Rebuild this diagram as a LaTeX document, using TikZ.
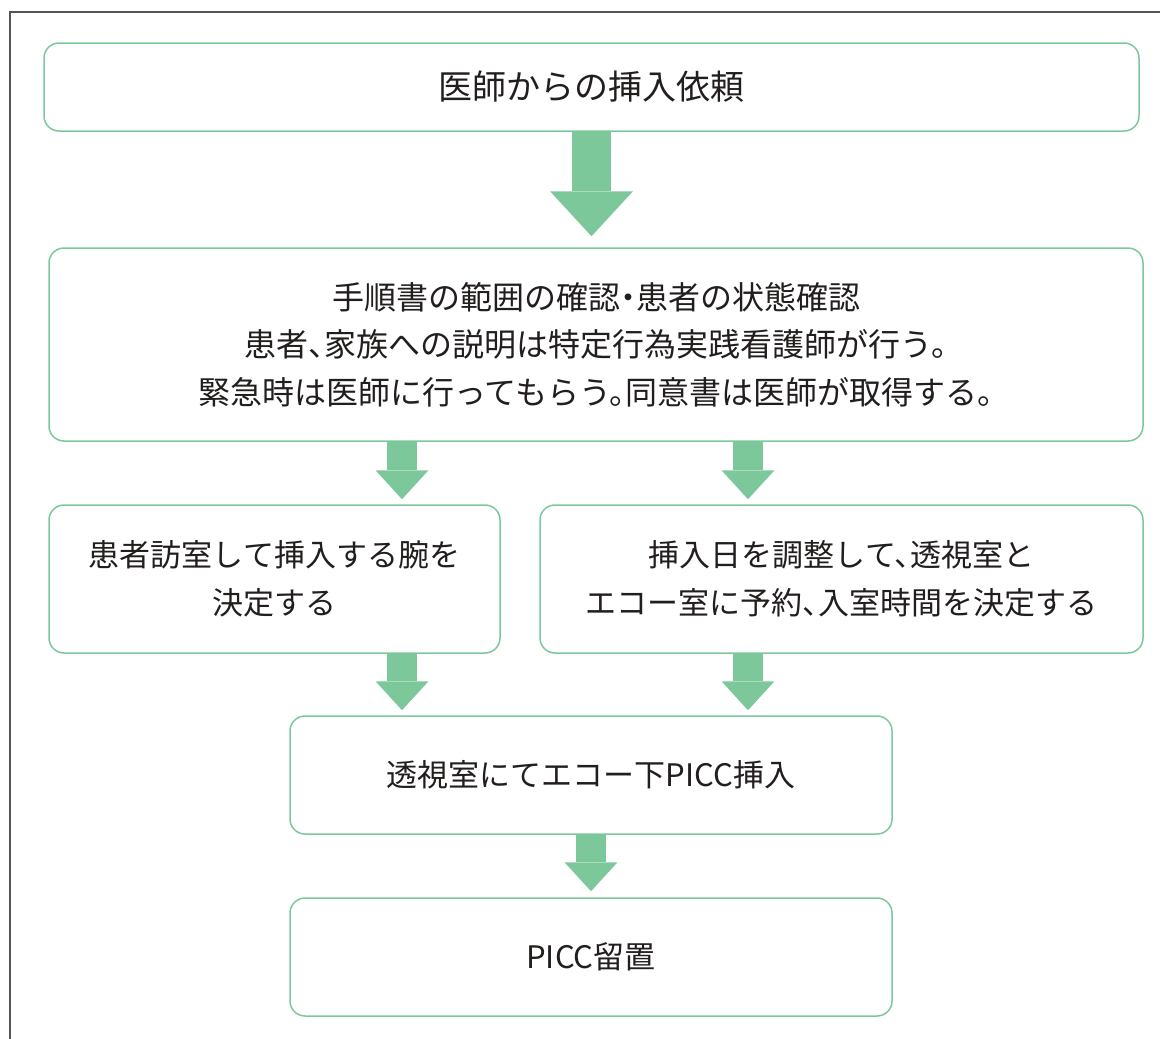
\documentclass[tikz,border=0pt]{standalone}
\usepackage{fontspec}
\newfontfamily\jpfont[RawFeature=+halt]{Noto Sans CJK JP}
\usepackage{xcolor}
\usetikzlibrary{arrows.meta,positioning,calc}
\definecolor{flowgreen}{RGB}{125,200,155}
\definecolor{framegray}{RGB}{85,85,85}
\definecolor{txtgray}{RGB}{35,30,30}

\begin{document}
\begin{tikzpicture}[
  x=1pt, y=-1pt,
  box/.style={draw=flowgreen, line width=1.5pt, rounded corners=15pt, align=center, text=txtgray, inner sep=0pt, font=\jpfont\fontsize{31}{47.5}\selectfont},
  arr/.style={draw=flowgreen, line width=30pt, -{Triangle[line width=0pt, length=29pt, width=53pt]}, shorten >=5pt},
  bigarr/.style={draw=flowgreen, line width=39pt, -{Triangle[line width=0pt, length=45pt, width=83pt]}, shorten >=11pt}
]
\useasboundingbox (0,0) rectangle (1160,1039);
\draw[framegray, line width=1.5pt] (1160,12) -- (10,12) -- (10,1039);

\node[box, minimum width=1095pt, minimum height=88pt, font=\jpfont\fontsize{34}{40}\selectfont] (req) at (591.5,87) {医師からの挿入依頼};
\node[box, minimum width=1094pt, minimum height=193pt, font=\jpfont\fontsize{32}{47.5}\selectfont] (check) at (596,344.5) {手順書の範囲の確認・患者の状態確認\\ 患者、家族への説明は特定行為実践看護師が行う。\\ 緊急時は医師に行ってもらう。同意書は医師が取得する。};
\node[box, minimum width=451pt, minimum height=148pt] (visit) at (274.5,579) {患者訪室して挿入する腕を\\ 決定する};
\node[box, minimum width=603pt, minimum height=148pt] (sched) at (841.5,579) {挿入日を調整して、透視室と\\ エコー室に予約、入室時間を決定する};
\node[box, minimum width=602pt, minimum height=118pt] (insert) at (591,775) {透視室にてエコー下PICC挿入};
\node[box, minimum width=602pt, minimum height=118pt] (keep) at (591,957) {PICC留置};

\coordinate (lx) at (402,0);
\coordinate (rx) at (748,0);

\draw[bigarr] (req.south) -- (req.south |- check.north);
\draw[arr] (check.south -| lx) -- (visit.north -| lx);
\draw[arr] (check.south -| rx) -- (sched.north -| rx);
\draw[arr] (visit.south -| lx) -- (insert.north -| lx);
\draw[arr] (sched.south -| rx) -- (insert.north -| rx);
\draw[arr, shorten >=6pt] (insert.south) -- (keep.north);
\end{tikzpicture}
\end{document}
